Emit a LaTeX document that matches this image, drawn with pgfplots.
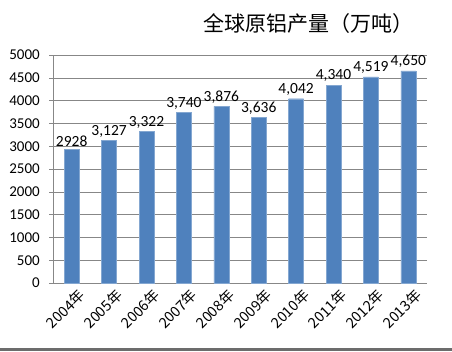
\documentclass[border=0pt]{standalone}
\usepackage{pgfplots}
\pgfplotsset{compat=1.18}
\usepackage{fontspec}
\setmainfont{Carlito}
\newfontfamily\cjk{Noto Sans CJK SC}
\definecolor{barblue}{HTML}{4F81BD}
\definecolor{gridgray}{HTML}{878787}
\begin{document}
\begin{tikzpicture}[x=1bp,y=1bp]
\path[use as bounding box] (0,0) rectangle (452,351);
\fill[fill=gray!85!black] (0,0) rectangle (452,3.5);
\node[font=\cjk\fontsize{21bp}{24bp}\selectfont] at (308,327) {全球原铝产量（万吨）};
\begin{axis}[
  at={(53bp,68bp)}, anchor=south west,
  scale only axis, width=374bp, height=228bp,
  xmin=-0.5, xmax=9.5, ymin=0, ymax=5000,
  ytick={0,500,...,5000},
  xtick={0,...,9},
  xticklabels={2004年,2005年,2006年,2007年,2008年,2009年,2010年,2011年,2012年,2013年},
  xticklabel style={font=\fontsize{14.5bp}{16bp}\selectfont\cjk, rotate=45, anchor=north east, inner sep=0.5pt, xshift=4bp, yshift=-4bp},
  extra x ticks={-0.5,0.5,...,9.5},
  extra x tick labels={},
  extra x tick style={major tick length=5bp, tick style={gridgray, line width=0.6pt}, xtick align=outside, grid=none},
  major x tick style={draw=none},
  yticklabel style={font=\fontsize{15bp}{17bp}\selectfont, inner sep=1pt, xshift=-8bp},
  /pgf/number format/assume math mode=true,
  /pgf/number format/set thousands separator={},
  ymajorgrids, grid style={gridgray, line width=0.6pt},
  axis x line*=bottom, axis y line*=left,
  axis line style={gridgray, line width=0.6pt},
  y axis line style={-}, x axis line style={-},
  ytick style={gridgray, line width=0.6pt},
  tick align=outside, major tick length=4bp,
  every node near coord/.append style={font=\fontsize{15.5bp}{17bp}\selectfont, black, yshift=1bp, inner sep=2pt},
]
\addplot[ybar, bar width=15bp, fill=barblue, draw=barblue!70!white, line width=0.3pt,
  nodes near coords={\labeltext},
  visualization depends on={value \thisrow{lab}\as\labeltext}]
  table[x=x,y=y] {
x y lab
0 2928 2928
1 3127 3,127
2 3322 3,322
3 3740 3,740
4 3876 3,876
5 3636 3,636
6 4042 4,042
7 4340 4,340
8 4519 4,519
9 4650 4,650
};
\end{axis}
\end{tikzpicture}
\end{document}
